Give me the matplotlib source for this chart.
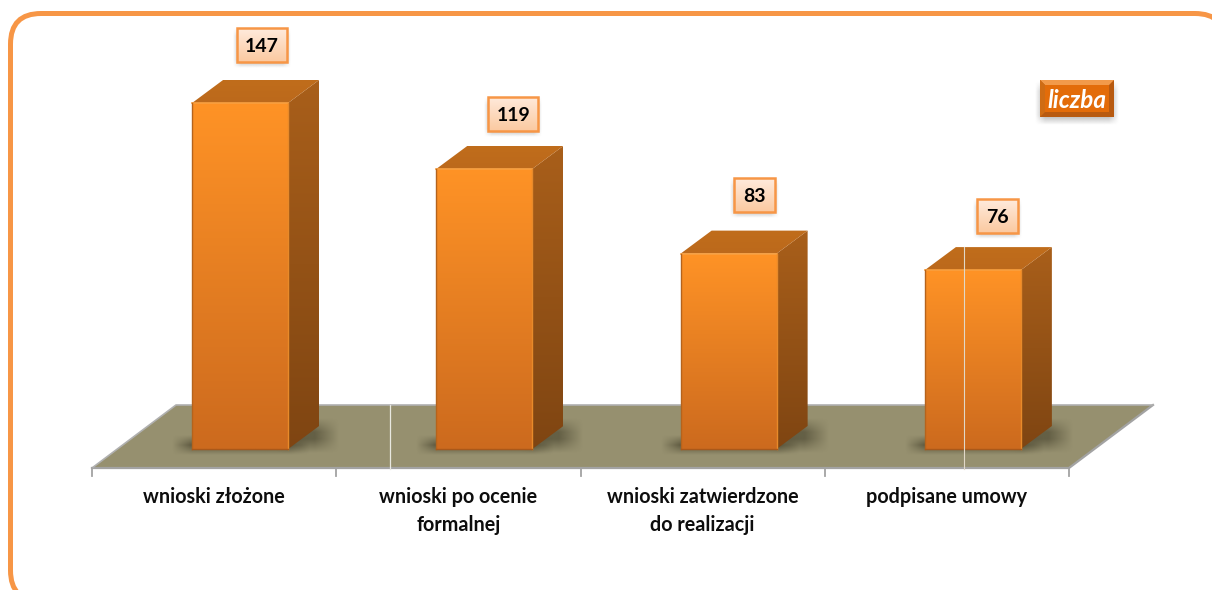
import numpy as np
import matplotlib
matplotlib.use('Agg')
import matplotlib.pyplot as plt
from matplotlib.patches import Polygon, Rectangle, FancyBboxPatch
from matplotlib.colors import LinearSegmentedColormap

categories = ['wnioski złożone', 'wnioski po ocenie\nformalnej',
              'wnioski zatwierdzone\ndo realizacji', 'podpisane umowy']
values = [147, 119, 83, 76]
legend_label = 'liczba'

# scale of the picture: pixels for one category and for one unit of value
px_cat = 244.25
px_val = 2.354
W, H = 1212, 590
x0_px = 92 + px_cat / 2     # centre of first category
y0_px = 449                 # value 0, where bars stand


def dx(p):
    return p / px_cat


def dy(p):
    return p / px_val


def X(px):
    return (px - x0_px) / px_cat


def Y(py):
    return (y0_px - py) / px_val


fig = plt.figure(figsize=(W / 100, H / 100), dpi=100)
ax = fig.add_axes([0, 0, 1, 1])
ax.axis('off')
xlim = (X(0), X(W))
ylim = (Y(H), Y(0))

plt.rcParams['font.family'] = ['Lato', 'DejaVu Sans']


def gradient(poly, top, bottom, ext, z):
    cmap = LinearSegmentedColormap.from_list('g', [top, bottom])
    im = ax.imshow(np.linspace(0, 1, 256).reshape(-1, 1), cmap=cmap, aspect='auto',
                   extent=ext, origin='upper', zorder=z)
    p = Polygon(poly, closed=True, transform=ax.transData, fc='none', ec='none')
    ax.add_patch(p)
    im.set_clip_path(p)


def soft_shadow(x1, x2, y1, y2, blur_x, blur_y, color, alpha, z):
    # blurred rectangle, drawn as an image with fading alpha
    xs = np.linspace(x1 - blur_x, x2 + blur_x, 200)
    ys = np.linspace(y2 + blur_y, y1 - blur_y, 100)
    ax_ = np.clip((xs - (x1 - blur_x)) / (2 * blur_x), 0, 1) * np.clip(((x2 + blur_x) - xs) / (2 * blur_x), 0, 1)
    ay_ = np.clip((ys - (y1 - blur_y)) / (2 * blur_y), 0, 1) * np.clip(((y2 + blur_y) - ys) / (2 * blur_y), 0, 1)
    a = np.outer(ay_, ax_)
    img = np.zeros(a.shape + (4,))
    img[..., :3] = matplotlib.colors.to_rgb(color)
    img[..., 3] = alpha * a
    ax.imshow(img, aspect='auto', extent=(xs[0], xs[-1], ys[-1], ys[0]),
              origin='upper', zorder=z, interpolation='bilinear')


# frame, right and bottom edges run off the picture
ax.add_patch(FancyBboxPatch((X(10.5), Y(601)), dx(1215), dy(587.5),
                            boxstyle='round,pad=0,rounding_size=0.125',
                            mutation_aspect=(px_cat / px_val),
                            fc='white', ec='#F79646', lw=3.6, zorder=1))

# floor
n = len(categories)
fl, fr = X(92), X(92) + n * 1.0
fb = Y(468)
depth_x, depth_y = dx(84), dy(63)
floor = [(fl, fb), (fr, fb), (fr + depth_x, fb + depth_y), (fl + depth_x, fb + depth_y)]
ax.add_patch(Polygon(floor, closed=True, fc='#96906F', ec='none', zorder=2))
ax.plot([fl, fr, fr + depth_x], [fb, fb, fb + depth_y], color='#A3A3A3', lw=1.6, zorder=3)
ax.plot([fl, fl + depth_x, fr + depth_x], [fb, fb + depth_y, fb + depth_y], color='#B0B0B0', lw=1.2, zorder=3)
for i in range(n + 1):
    ax.plot([fl + i, fl + i], [fb, fb - dy(8)], color='#A3A3A3', lw=1.3, zorder=3)

# bars
bar_w = dx(96)
bar_off = dx(26)
bd_x, bd_y = dx(31), dy(23)
for i, v in enumerate(values):
    x1 = i + bar_off - bar_w / 2
    x2 = x1 + bar_w
    soft_shadow(x1 - dx(10), x2 + dx(12), dy(-1), dy(9), dx(10), dy(5), '#4A4630', 0.75, 4)
    soft_shadow(x2, x2 + bd_x + dx(8), dy(3), dy(24), dx(12), dy(7), '#4A4630', 0.65, 4)
    # side face
    side = [(x2, 0), (x2 + bd_x, bd_y), (x2 + bd_x, v + bd_y), (x2, v)]
    gradient(side, '#A95F1A', '#7F4512', (x2, x2 + bd_x, 0, v + bd_y), 5)
    # top face
    top = [(x1, v), (x2, v), (x2 + bd_x, v + bd_y), (x1 + bd_x, v + bd_y)]
    gradient(top, '#C06D1C', '#BC691B', (x1, x2 + bd_x, v, v + bd_y), 5)
    # front face
    front = [(x1, 0), (x2, 0), (x2, v), (x1, v)]
    gradient(front, '#FF9326', '#CC6A1E', (x1, x2, 0, v), 6)
    ax.plot([x1, x2], [v, v], color='#F8A040', lw=1.2, zorder=7)
    ax.plot([x1, x1], [0, v], color='#B5631C', lw=1, zorder=7)
    ax.plot([x2, x2], [0, v], color='#E88A2A', lw=1, zorder=7)
    ax.plot([x1, x2], [0, 0], color='#A9581A', lw=1, zorder=7)

# thin white lines left in the picture
ax.plot([X(390), X(390)], [Y(405), Y(469)], color='#E8E8E0', lw=0.9, zorder=3)
ax.plot([X(964), X(964)], [Y(247), Y(469)], color='#E0D8C8', lw=0.8, zorder=8)

# value boxes
label_off = [21.5, 29, 26, 24.5]
label_up = [35, 32, 36, 31]
for i, v in enumerate(values):
    cx = i + bar_off + dx(label_off[i])
    cy = v + bd_y + dy(label_up[i])
    w, h = dx(50 if v > 99 else 41), dy(34)
    soft_shadow(cx - w / 2, cx + w / 2, cy - h / 2 - dy(2), cy + h / 2 - dy(4), dx(4), dy(4), '#808080', 0.6, 8)
    box = [(cx - w / 2, cy - h / 2), (cx + w / 2, cy - h / 2), (cx + w / 2, cy + h / 2), (cx - w / 2, cy + h / 2)]
    gradient(box, '#FFEBDD', '#FBC9A0', (cx - w / 2, cx + w / 2, cy - h / 2, cy + h / 2), 9)
    ax.add_patch(Polygon(box, closed=True, fc='none', ec='#F79646', lw=1.8, zorder=10))
    ax.text(cx, cy, str(v), ha='center', va='center_baseline', fontsize=14, fontweight='bold',
            color='black', zorder=11)

# category labels
for i, c in enumerate(categories):
    ax.text(i, Y(487), c, ha='center', va='top', fontsize=14.2, fontweight='bold',
            color='#0D0D0D', linespacing=1.48, zorder=11)

# legend box
lx1, lx2, ly1, ly2 = X(1040), X(1114), Y(117), Y(80)
soft_shadow(lx1, lx2, ly1 - dy(3), ly2 - dy(6), dx(5), dy(5), '#808080', 0.6, 8)
ax.add_patch(Rectangle((lx1, ly1), lx2 - lx1, ly2 - ly1, fc='#B85A10', ec='none', zorder=9))
ax.add_patch(Polygon([(lx1, ly2), (lx2, ly2), (lx2 - dx(5), ly2 - dy(5)), (lx1 + dx(5), ly2 - dy(5))],
                     closed=True, fc='#F29A4A', ec='none', zorder=9))
ax.add_patch(Polygon([(lx1, ly1), (lx1 + dx(5), ly1 + dy(5)), (lx1 + dx(5), ly2 - dy(5)), (lx1, ly2)],
                     closed=True, fc='#CF6C14', ec='none', zorder=9))
ax.add_patch(Rectangle((lx1 + dx(5), ly1 + dy(5)), lx2 - lx1 - dx(10), ly2 - ly1 - dy(10),
                       fc='#E36C09', ec='none', zorder=10))
ax.text((lx1 + lx2) / 2, (ly1 + ly2) / 2, legend_label, ha='center', va='center_baseline', fontsize=17.5,
        fontweight='bold', fontstyle='italic', color='white', zorder=11)

ax.set_xlim(*xlim)
ax.set_ylim(*ylim)
fig.savefig('out.png', dpi=100, facecolor='white')
